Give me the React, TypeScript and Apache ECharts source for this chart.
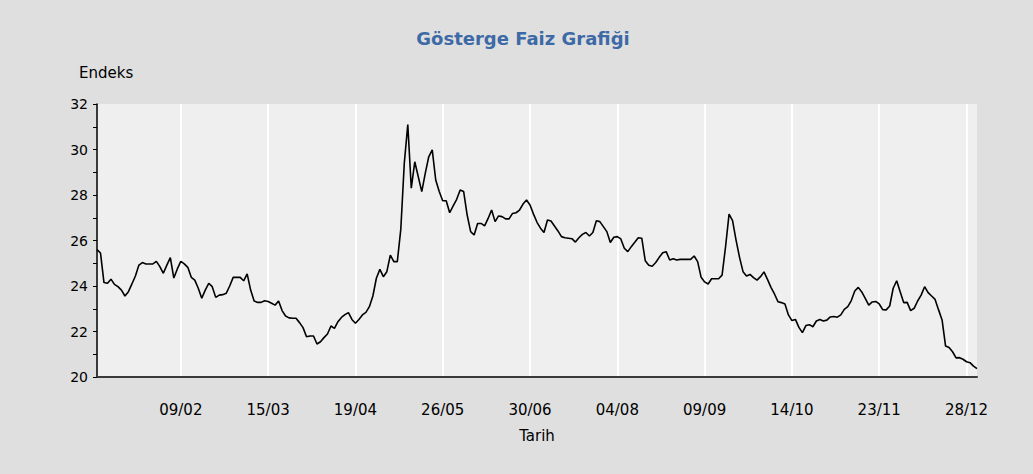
import React, { useEffect, useRef } from "react";
import * as echarts from "echarts";

// ---- Data (Gösterge faiz, 2004, daily trading days) ----
const HOLIDAYS = [
  "2004-01-01", "2004-02-02", "2004-02-03", "2004-02-04", "2004-04-23",
  "2004-05-19", "2004-08-30", "2004-10-29", "2004-11-15", "2004-11-16",
];

const TICK_LABELS = ["09/02", "15/03", "19/04", "26/05", "30/06", "04/08", "09/09", "14/10", "23/11", "28/12"];

const Y_TICKS = [20, 22, 24, 26, 28, 30, 32];

const valuesQ1 = [
  25.6, 25.45, 24.15, 24.12, 24.3, 24.07, 23.97, 23.82, 23.56, 23.75,
  24.09, 24.44, 24.92, 25.03, 24.97, 24.97, 24.97, 25.08, 24.85, 24.56,
  24.92, 25.25, 24.35, 24.75, 25.08, 24.97, 24.82, 24.38, 24.26, 23.9,
  23.46, 23.82, 24.12, 23.97, 23.5, 23.6, 23.62, 23.68, 24.0, 24.38,
  24.38, 24.38, 24.23, 24.53, 23.82, 23.34, 23.28, 23.28, 23.35, 23.32,
  23.24, 23.16, 23.34, 22.92, 22.68, 22.6, 22.58, 22.58, 22.39, 22.17,
  21.77, 21.8, 21.8,
];
const valuesQ2 = [
  21.45, 21.55, 21.73, 21.89, 22.24, 22.14, 22.43, 22.62, 22.74, 22.83,
  22.53, 22.36, 22.53, 22.73, 22.84, 23.09, 23.56, 24.34, 24.73, 24.41,
  24.63, 25.36, 25.07, 25.07, 26.5, 29.4, 31.1, 28.3, 29.46, 28.8,
  28.15, 28.95, 29.68, 29.98, 28.66, 28.15, 27.75, 27.75, 27.22, 27.52,
  27.81, 28.22, 28.15, 27.12, 26.39, 26.24, 26.75, 26.75, 26.64, 26.97,
  27.34, 26.83, 27.08, 27.05, 26.95, 26.95, 27.19, 27.22, 27.34, 27.6,
  27.78, 27.56,
];
const valuesQ3 = [
  27.16, 26.8, 26.54, 26.35, 26.9, 26.86, 26.64, 26.42, 26.17, 26.12,
  26.1, 26.08, 25.93, 26.12, 26.27, 26.35, 26.2, 26.35, 26.87, 26.83,
  26.61, 26.39, 25.91, 26.14, 26.17, 26.07, 25.66, 25.51, 25.73, 25.92,
  26.12, 26.1, 25.11, 24.91, 24.87, 25.03, 25.26, 25.46, 25.51, 25.14,
  25.2, 25.14, 25.17, 25.17, 25.17, 25.17, 25.32, 25.07, 24.38, 24.18,
  24.09, 24.32, 24.32, 24.32, 24.48, 25.73, 27.16, 26.87, 26.02, 25.26,
  24.63, 24.44, 24.51, 24.37,
];
const valuesQ4 = [
  24.26, 24.41, 24.62, 24.29, 23.94, 23.65, 23.31, 23.27, 23.21, 22.73,
  22.48, 22.53, 22.18, 21.95, 22.26, 22.3, 22.21, 22.46, 22.53, 22.46,
  22.5, 22.64, 22.66, 22.63, 22.73, 22.97, 23.09, 23.36, 23.78, 23.94,
  23.74, 23.46, 23.16, 23.3, 23.32, 23.21, 22.96, 22.95, 23.12, 23.9,
  24.23, 23.75, 23.27, 23.28, 22.92, 23.02, 23.34, 23.6, 23.97, 23.71,
  23.56, 23.41, 22.95, 22.51, 21.36, 21.3, 21.11, 20.84, 20.85, 20.78,
  20.67, 20.63, 20.48, 20.37,
];

function tradingDays(): string[] {
  const out: string[] = [];
  let d = Date.UTC(2003, 11, 31);
  const end = Date.UTC(2004, 11, 31);
  while (d <= end) {
    const dt = new Date(d);
    const wd = dt.getUTCDay();
    const iso = dt.toISOString().slice(0, 10);
    if (wd !== 0 && wd !== 6 && !HOLIDAYS.includes(iso)) {
      out.push(iso.slice(8, 10) + "/" + iso.slice(5, 7));
    }
    d += 86400000;
  }
  return out;
}

const categories = tradingDays();
const values = [...valuesQ1, ...valuesQ2, ...valuesQ3, ...valuesQ4];

const FONT = "DejaVu Sans";

export default function App() {
  const ref = useRef<HTMLDivElement>(null);
  useEffect(() => {
    if (!ref.current) return;
    const chart = echarts.init(ref.current, undefined, { renderer: "svg" });
    const showTick = (_i: number, v: string) => TICK_LABELS.includes(v);
    chart.setOption({
      animation: false,
      backgroundColor: "#dfdfdf",
      textStyle: { fontFamily: FONT },
      graphic: [
        {
          type: "text",
          x: 523,
          y: 38,
          style: {
            text: "Gösterge Faiz Grafiği",
            fill: "#3d6aa6",
            font: `bold 18px "${FONT}"`,
            textAlign: "center",
            textVerticalAlign: "middle",
          },
        },
        {
          type: "text",
          x: 79,
          y: 73,
          style: {
            text: "Endeks",
            fill: "#000",
            font: `15px "${FONT}"`,
            textAlign: "left",
            textVerticalAlign: "middle",
          },
        },
      ],
      grid: {
        left: 97,
        right: 56,
        top: 104,
        bottom: 97,
        show: true,
        backgroundColor: "#efefef",
        borderWidth: 0,
      },
      xAxis: {
        type: "category",
        data: categories,
        boundaryGap: false,
        name: "Tarih",
        nameLocation: "middle",
        nameGap: 51,
        nameTextStyle: { color: "#000", fontSize: 15, fontFamily: FONT },
        axisLine: { show: true, lineStyle: { color: "#3a3a3a", width: 2 } },
        axisTick: { show: false },
        axisLabel: {
          interval: showTick,
          margin: 25,
          color: "#000",
          fontSize: 15,
          fontFamily: FONT,
        },
        splitLine: {
          show: true,
          interval: showTick,
          lineStyle: { color: "#ffffff", width: 2 },
        },
      },
      yAxis: {
        type: "value",
        min: Y_TICKS[0],
        max: Y_TICKS[Y_TICKS.length - 1],
        interval: 2,
        axisLine: { show: true, lineStyle: { color: "#000", width: 1.5 } },
        axisTick: { show: true, length: 4, lineStyle: { color: "#000" } },
        minorTick: { show: true, splitNumber: 2, length: 4, lineStyle: { color: "#000" } },
        splitLine: { show: false },
        axisLabel: { margin: 9, color: "#000", fontSize: 14, fontFamily: FONT },
      },
      series: [
        {
          type: "line",
          data: values,
          symbol: "none",
          lineStyle: { color: "#000", width: 1.6 },
          silent: true,
        },
      ],
    });
    return () => chart.dispose();
  }, []);
  return (
    <div
      ref={ref}
      style={{ position: "absolute", left: 0, top: 0, width: 1033, height: 474 }}
    />
  );
}
